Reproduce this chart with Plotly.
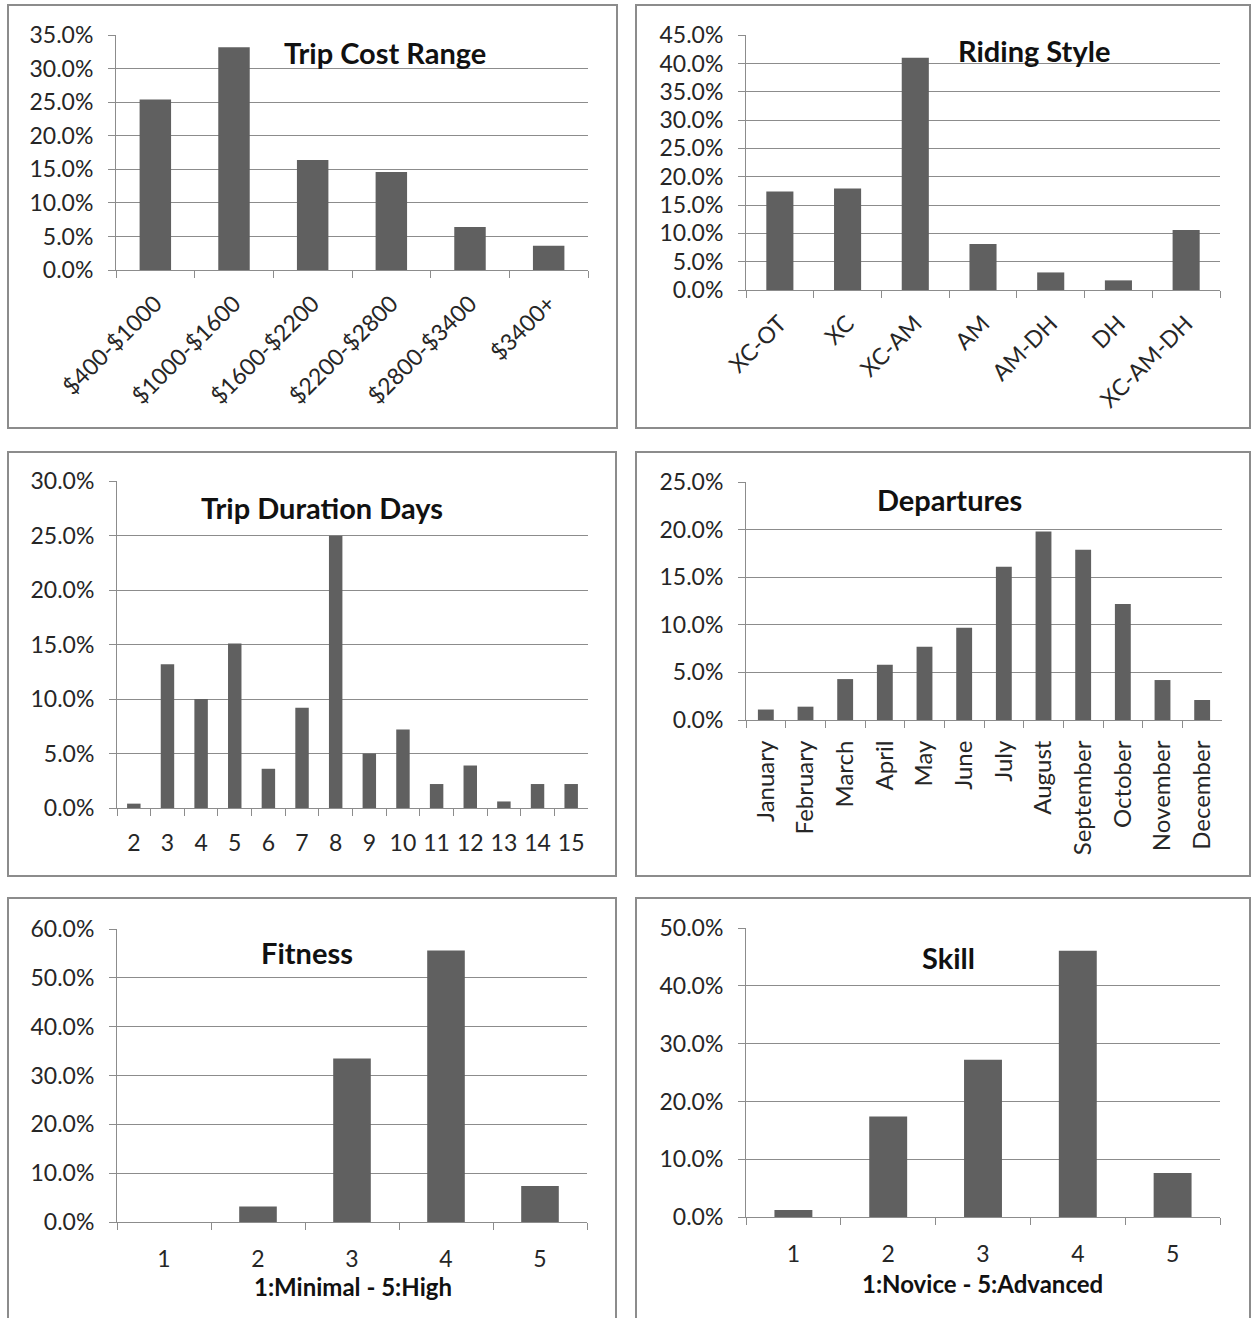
import plotly.graph_objects as go

# ---- data (percent of respondents) ----
cost_labels = ["$400-$1000", "$1000-$1600", "$1600-$2200", "$2200-$2800", "$2800-$3400", "$3400+"]
cost_values = [25.4, 33.2, 16.4, 14.6, 6.4, 3.6]

style_labels = ["XC-OT", "XC", "XC-AM", "AM", "AM-DH", "DH", "XC-AM-DH"]
style_values = [17.4, 17.9, 41.0, 8.1, 3.1, 1.7, 10.6]

duration_labels = ["2", "3", "4", "5", "6", "7", "8", "9", "10", "11", "12", "13", "14", "15"]
duration_values = [0.4, 13.2, 10.0, 15.1, 3.6, 9.2, 25.0, 5.0, 7.2, 2.2, 3.9, 0.6, 2.2, 2.2]

month_labels = ["January", "February", "March", "April", "May", "June", "July",
                "August", "September", "October", "November", "December"]
month_values = [1.1, 1.4, 4.3, 5.8, 7.7, 9.7, 16.1, 19.8, 17.9, 12.2, 4.2, 2.1]

fitness_labels = ["1", "2", "3", "4", "5"]
fitness_values = [0.0, 3.2, 33.5, 55.6, 7.4]

skill_labels = ["1", "2", "3", "4", "5"]
skill_values = [1.2, 17.4, 27.2, 46.1, 7.6]

W, H = 1252, 1318
BAR = "#606060"
GRID = "#8c8c8c"
TXT = "#262626"
FONT = "Lato, Carlito, sans-serif"
TICK_SIZE = 23
TITLE_SIZE = 29
AXIS_TITLE_SIZE = 24


def px_x(x):
    return x / W


def px_y(y):
    return 1 - y / H


# panel definitions: data, plot-area pixel box, frame box, title, axis options
panels = [
    dict(cats=cost_labels, vals=cost_values, area=(116, 35, 588, 270), frame=(8, 5, 617, 428),
         title="Trip Cost Range", tpos=(385, 53), ymax=35, dtick=5, angle=-45, standoff=10,
         xsize=TICK_SIZE, xtitle=None),
    dict(cats=style_labels, vals=style_values, area=(746, 35, 1220, 290), frame=(636, 5, 1250, 428),
         title="Riding Style", tpos=(1034, 51), ymax=45, dtick=5, angle=-45, standoff=10,
         xsize=TICK_SIZE, xtitle=None),
    dict(cats=duration_labels, vals=duration_values, area=(117, 481, 588, 808), frame=(8, 452, 616, 876),
         title="Trip Duration Days", tpos=(322, 507), ymax=30, dtick=5, angle=0, standoff=14,
         xsize=TICK_SIZE, xtitle=None),
    dict(cats=month_labels, vals=month_values, area=(746, 482, 1222, 720), frame=(636, 452, 1250, 876),
         title="Departures", tpos=(949, 499), ymax=25, dtick=5, angle=-90, standoff=10,
         xsize=24, xtitle=None),
    dict(cats=fitness_labels, vals=fitness_values, area=(117, 929, 587, 1222), frame=(8, 898, 616, 1330),
         title="Fitness", tpos=(307, 952), ymax=60, dtick=10, angle=0, standoff=16,
         xsize=TICK_SIZE, xtitle=("1:Minimal - 5:High", 353, 1286)),
    dict(cats=skill_labels, vals=skill_values, area=(746, 928, 1220, 1217), frame=(636, 898, 1250, 1330),
         title="Skill", tpos=(948, 957), ymax=50, dtick=10, angle=0, standoff=16,
         xsize=TICK_SIZE, xtitle=("1:Novice - 5:Advanced", 982, 1283)),
]

fig = go.Figure()
layout = dict(
    width=W, height=H,
    margin=dict(l=0, r=0, t=0, b=0, autoexpand=False),
    paper_bgcolor="white", plot_bgcolor="white",
    showlegend=False,
    bargap=0.6,
    font=dict(family=FONT, color=TXT, size=TICK_SIZE),
    shapes=[], annotations=[],
)

for i, p in enumerate(panels, start=1):
    xs = "" if i == 1 else str(i)
    fig.add_trace(go.Bar(x=p["cats"], y=p["vals"], marker=dict(color=BAR, line=dict(width=0)),
                         xaxis="x" + xs, yaxis="y" + xs, hoverinfo="x+y"))
    x0, y0, x1, y1 = p["area"]
    layout["xaxis" + xs] = dict(
        domain=[px_x(x0), px_x(x1)], anchor="y" + xs, type="category", automargin=False,
        showgrid=False, showline=True, linecolor=GRID, linewidth=1,
        ticks="outside", ticklen=7, tickcolor=GRID, tickson="boundaries",
        tickangle=p["angle"], ticklabelstandoff=p["standoff"],
        tickfont=dict(size=p["xsize"], color=TXT), fixedrange=True,
    )
    layout["yaxis" + xs] = dict(
        domain=[px_y(y1), px_y(y0)], anchor="x" + xs, automargin=False,
        range=[0, p["ymax"] * 1.0005], dtick=p["dtick"], tick0=0,
        tickformat=".1f", ticksuffix="%",
        showgrid=True, gridcolor=GRID, gridwidth=1,
        showline=True, linecolor=GRID, linewidth=1, zeroline=False,
        ticks="outside", ticklen=7, tickcolor=GRID, ticklabelstandoff=10,
        tickfont=dict(size=TICK_SIZE, color=TXT), fixedrange=True,
    )
    fx0, fy0, fx1, fy1 = p["frame"]
    layout["shapes"].append(dict(type="rect", xref="paper", yref="paper",
                                 x0=px_x(fx0), x1=px_x(fx1), y0=px_y(fy1), y1=px_y(fy0),
                                 line=dict(color=GRID, width=2), fillcolor="rgba(0,0,0,0)"))
    tx, ty = p["tpos"]
    layout["annotations"].append(dict(text="<b>%s</b>" % p["title"], xref="paper", yref="paper",
                                      x=px_x(tx), y=px_y(ty), xanchor="center", yanchor="middle",
                                      showarrow=False, font=dict(size=TITLE_SIZE, color="#111111", family=FONT)))
    if p["xtitle"]:
        t, ax, ay = p["xtitle"]
        layout["annotations"].append(dict(text="<b>%s</b>" % t, xref="paper", yref="paper",
                                          x=px_x(ax), y=px_y(ay), xanchor="center", yanchor="middle",
                                          showarrow=False, font=dict(size=AXIS_TITLE_SIZE, color="#111111", family=FONT)))

fig.update_layout(**layout)
fig.write_html("out.html")
